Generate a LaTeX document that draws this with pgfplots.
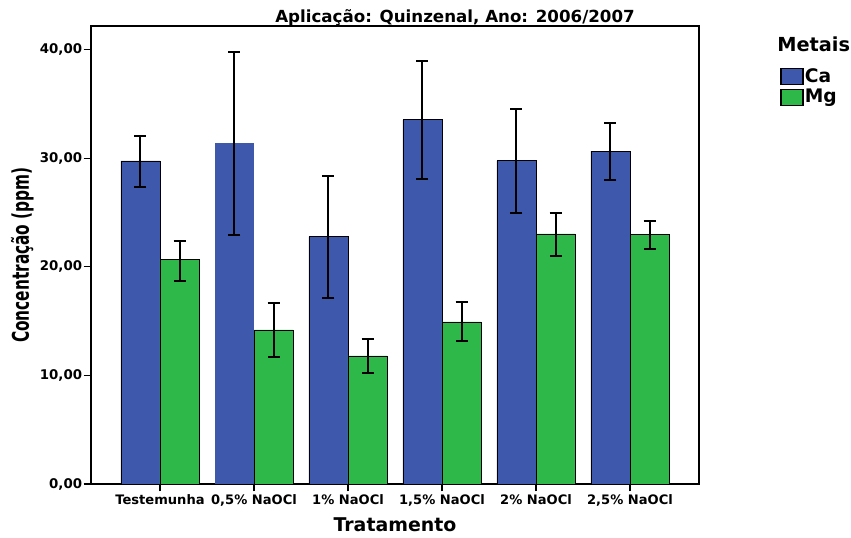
\documentclass[border=0pt]{standalone}
\usepackage{pgfplots}
\pgfplotsset{compat=1.18}
\usepackage{graphicx}
\usepackage{fontspec}
\setmainfont{DejaVu Sans}
\definecolor{caBlue}{RGB}{62,88,171}
\definecolor{mgGreen}{RGB}{46,184,74}
\begin{document}
\begin{tikzpicture}
\useasboundingbox (0pt,0pt) rectangle (638.25pt,402.75pt);
\begin{axis}[
  at={(68.25pt,39.75pt)}, anchor=south west,
  scale only axis,
  width=456pt, height=343.5pt,
  ybar,
  bar width=0.415,
  xmin=-0.734, xmax=5.734,
  ymin=0, ymax=42.2,
  axis line style={line width=0.8pt},
  xtick={0,1,2,3,4,5},
  xticklabels={Testemunha,{0,5\% NaOCl},{1\% NaOCl},{1,5\% NaOCl},{2\% NaOCl},{2,5\% NaOCl}},
  ytick={0,10,20,30,40},
  tick align=outside,
  xtick pos=bottom, ytick pos=left,
  major tick length=5.5pt,
  tick style={line width=0.8pt, black},
  /pgf/number format/assume math mode=true,
  yticklabel style={font=\bfseries\fontsize{10}{12}\selectfont, inner sep=1pt,
    /pgf/number format/.cd, fixed, fixed zerofill, precision=2, use comma},
  xticklabel style={font=\bfseries\fontsize{9.8}{11}\selectfont, inner sep=1pt, yshift=-1pt},
  xlabel={\bfseries\fontsize{14.2}{16}\selectfont Tratamento},
  xlabel style={at={(rel axis cs:0.5,-0.0895)}, anchor=center},
  ylabel={\scalebox{1}[1.5]{\bfseries\fontsize{11.5}{14}\selectfont Concentração (ppm)}},
  ylabel style={at={(rel axis cs:-0.113,0.5)}, anchor=center},
  legend style={at={(rel axis cs:1.127,0.916)}, anchor=north west, draw=none, fill=none,
    font=\bfseries\fontsize{14}{16}\selectfont, row sep=1.5pt,
    nodes={inner sep=1pt}},
  legend cell align=left,
  error bars/y dir=both,
  error bars/y explicit,
  error bars/error bar style={black, line width=1.5pt},
  error bars/error mark options={black, line width=1.5pt, mark size=4.5pt, rotate=90},
]
\addplot+[bar shift=-0.2075, fill=caBlue, draw=black, line width=0.6pt,
  legend image code/.code={\draw[fill=caBlue,draw=black,line width=0.8pt] (0pt,-6pt) rectangle (16.5pt,6pt);}]
  coordinates {
  (0,29.77) += (0,2.33) -= (0,2.37)
  (2,22.80) += (0,5.59) -= (0,5.63)
  (3,33.55) += (0,5.44) -= (0,5.44)
  (4,29.80) += (0,4.76) -= (0,4.82)
  (5,30.66) += (0,2.64) -= (0,2.64)
};
\addlegendentry{Ca}
\addplot+[bar shift=0.2075, fill=mgGreen, draw=black, line width=0.6pt,
  legend image code/.code={\draw[fill=mgGreen,draw=black,line width=0.8pt] (0pt,-6pt) rectangle (16.5pt,6pt);}]
  coordinates {
  (0,20.71) += (0,1.71) -= (0,2.00)
  (1,14.19) += (0,2.49) -= (0,2.49)
  (2,11.80) += (0,1.56) -= (0,1.57)
  (3,14.93) += (0,1.84) -= (0,1.75)
  (4,23.04) += (0,1.94) -= (0,2.03)
  (5,23.01) += (0,1.26) -= (0,1.32)
};
\addlegendentry{Mg}
\addplot+[forget plot, bar shift=-0.2075, fill=caBlue, draw=none]
  coordinates {
  (1,31.43) += (0,8.42) -= (0,8.48)
};
\end{axis}
\node[anchor=base, font=\bfseries\fontsize{12.5}{14}\selectfont, inner sep=0pt] at (341.25pt,385.7pt) {Aplicação: Quinzenal, Ano: 2006/2007};
\node[anchor=base west, font=\bfseries\fontsize{14.5}{16}\selectfont, inner sep=0pt] at (582.75pt,363.75pt) {Metais};
\end{tikzpicture}
\end{document}
